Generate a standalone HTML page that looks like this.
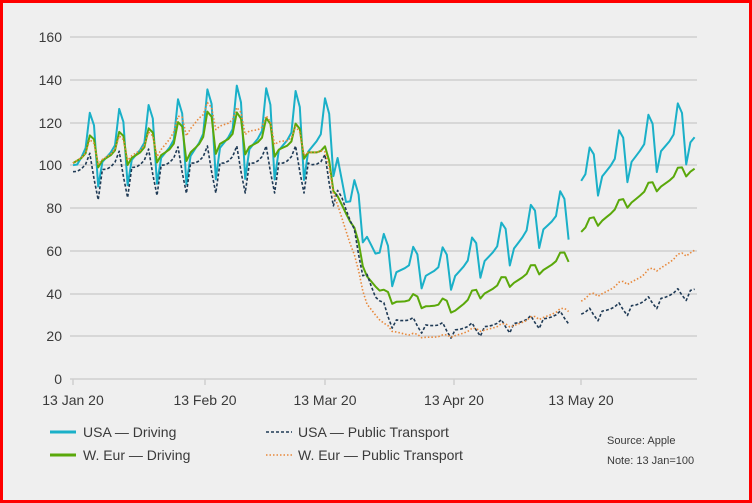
<!DOCTYPE html>
<html><head><meta charset="utf-8"><style>
body{margin:0;background:#fff}
svg{display:block;font-family:"Liberation Sans",sans-serif}
</style></head><body>
<svg id="s" width="752" height="503" viewBox="0 0 752 503" xmlns="http://www.w3.org/2000/svg">
<rect x="1.5" y="1.5" width="749" height="500" fill="#efefef" stroke="#ff0000" stroke-width="3"/>
<g stroke="#cfcfcf" stroke-width="1.5">
<line x1="70" x2="697" y1="37" y2="37"/><line x1="70" x2="697" y1="80" y2="80"/>
<line x1="70" x2="697" y1="123" y2="123"/><line x1="70" x2="697" y1="165" y2="165"/>
<line x1="70" x2="697" y1="208" y2="208"/><line x1="70" x2="697" y1="251" y2="251"/>
<line x1="70" x2="697" y1="294" y2="294"/><line x1="70" x2="697" y1="336" y2="336"/>
<line x1="70" x2="697" y1="379" y2="379"/>
<line x1="73" x2="73" y1="379" y2="385"/><line x1="205" x2="205" y1="379" y2="385"/>
<line x1="325" x2="325" y1="379" y2="385"/><line x1="454" x2="454" y1="379" y2="385"/>
<line x1="581" x2="581" y1="379" y2="385"/>
</g>
<g fill="#3a3a3a" font-size="14" text-anchor="end">
<text x="62" y="42">160</text><text x="62" y="85">140</text><text x="62" y="128">120</text>
<text x="62" y="170">100</text><text x="62" y="213">80</text><text x="62" y="256">60</text>
<text x="62" y="299">40</text><text x="62" y="341">20</text><text x="62" y="384">0</text>
</g>
<g fill="#3a3a3a" font-size="14" text-anchor="middle">
<text x="73" y="405">13 Jan 20</text><text x="205" y="405">13 Feb 20</text>
<text x="325" y="405">13 Mar 20</text><text x="454" y="405">13 Apr 20</text>
<text x="581" y="405">13 May 20</text>
</g>
<g id="series" fill="none" stroke-linejoin="round"></g>
<g font-size="14" fill="#3a3a3a">
<line x1="50" x2="76" y1="432" y2="432" stroke="#1ab0c8" stroke-width="3"/>
<text x="83" y="437">USA — Driving</text>
<line x1="50" x2="76" y1="455" y2="455" stroke="#5aa80a" stroke-width="3"/>
<text x="83" y="460">W. Eur — Driving</text>
<line x1="266" x2="292" y1="432" y2="432" stroke="#1f3a55" stroke-width="1.6" stroke-dasharray="3,2"/>
<text x="298" y="437">USA — Public Transport</text>
<line x1="266" x2="292" y1="455" y2="455" stroke="#e8883a" stroke-width="1.6" stroke-dasharray="1.5,2"/>
<text x="298" y="460">W. Eur — Public Transport</text>
<text x="607" y="444" font-size="11">Source: Apple</text>
<text x="607" y="464" font-size="11">Note: 13 Jan=100</text>
</g>
</svg>
<script>
function interp(k,d){for(let i=0;i<k.length-1;i++){if(d<=k[i+1][0]){const t=(d-k[i][0])/(k[i+1][0]-k[i][0]);return k[i][1]+t*(k[i+1][1]-k[i][1]);}}return k[k.length-1][1];}
function X(d){return 73+d*4.2}function Y(v){return 379-v*2.1375}
function build(base,wk,amp,color,w,dash){
  let segs=[[0,118],[121,148]];let out='';
  segs.forEach(s=>{let p='';for(let d=s[0];d<=s[1];d++){let v=interp(base,d);if(d>0)v+=wk[d%7]*interp(amp,d);p+=(p?'L':'M')+X(d).toFixed(1)+','+Y(v).toFixed(1);}
  out+='<path d="'+p+'" stroke="'+color+'" stroke-width="'+w+'"'+(dash?' stroke-dasharray="'+dash+'"':'')+'/>';});
  return out;}
let h='';
h+=build([[0,100],[3,104],[28,108],[35,112],[56,110],[61,110],[63,106],[65,82],[69,74],[72,58],[76,52],[84,50],[91,50],[98,57],[105,63],[112,72],[118,75],[121,92],[135,106],[148,114]],
 [-3,-1,1,4,20,14,-14],[[0,1],[20,1.1],[35,1.3],[58,1.2],[64,0.8],[80,0.55],[118,0.7],[121,0.7],[148,0.9]],'#1ab0c8',2,null);
h+=build([[0,101],[28,106],[35,110],[56,106],[59,103],[62,90],[66,72],[70,48],[74,37],[84,34],[91,32],[98,40],[105,45],[112,51],[118,56],[121,68],[135,85],[148,98]],
 [0,1,2,4,12,10,-3],[[0,1],[20,1.1],[32,1.4],[58,1],[66,0.4],[148,0.4]],'#5aa80a',2,null);
h+=build([[0,97],[28,101],[56,101],[60,98],[64,85],[68,60],[72,38],[76,28],[91,23],[105,26],[118,30],[121,30],[135,35],[148,42]],
 [0,0,1,3,8,-4,-14],[[0,1],[58,1],[66,0.5],[76,0.3],[148,0.3]],'#1f3a55',1.6,'3,2');
h+=build([[0,101],[20,106],[30,120],[42,116],[56,106],[59,103],[62,88],[66,62],[70,35],[74,24],[80,20],[88,19],[95,22],[105,25],[118,32],[121,36],[135,47],[148,60]],
 [0,1,2,4,10,8,-2],[[0,1],[58,1],[66,0.3],[80,0.15],[148,0.25]],'#e8883a',1.6,'1.5,2');
document.getElementById('series').innerHTML=h;
</script>
</body></html>
